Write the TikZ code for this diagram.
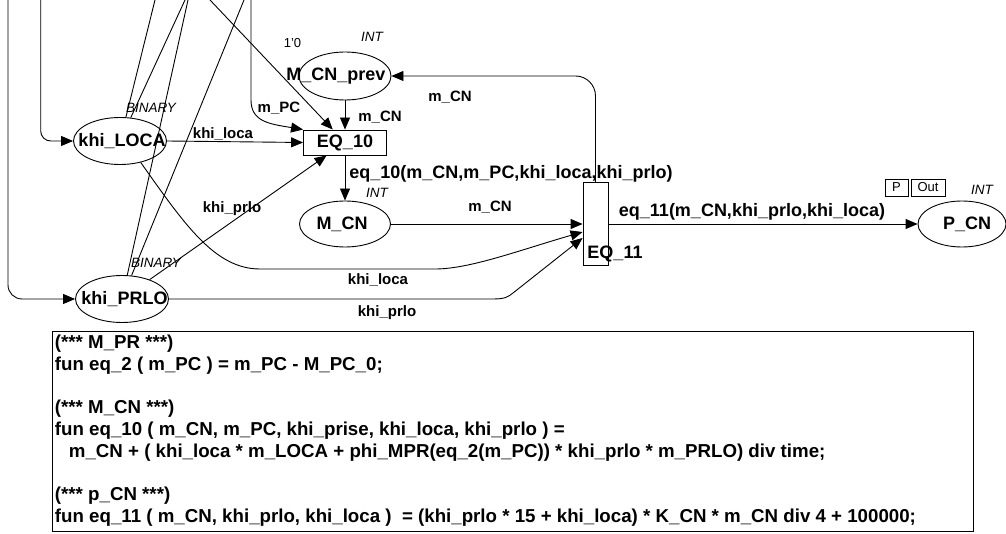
\documentclass[tikz,border=0pt]{standalone}
\usepackage{fontspec}
\setmainfont{Liberation Sans}
\usetikzlibrary{arrows.meta,shapes.geometric}
\begin{document}
\begin{tikzpicture}[x=1pt,y=-1pt,
  line width=0.9pt,
  arr/.style={-{Triangle[length=12pt,width=10pt]}},
  place/.style={draw,ellipse,minimum width=93pt,minimum height=47pt,inner sep=0pt},
  trans/.style={draw,rectangle,inner sep=0pt},
  nlab/.style={font=\fontsize{18}{20}\selectfont\bfseries,inner sep=0pt},
  alab/.style={font=\fontsize{15}{17}\selectfont\bfseries,inner sep=0pt},
  tlab/.style={font=\fontsize{13.5}{15}\selectfont\itshape,inner sep=0pt},
  smalltxt/.style={font=\fontsize{13}{15}\selectfont,inner sep=0pt},
  tagbox/.style={draw,line width=0.6pt,font=\fontsize{13}{15}\selectfont,inner sep=0pt,minimum height=17pt},
]
\useasboundingbox (0,0) rectangle (1006,534);

% places
\node[place] (loca) at (120,141) {};
\node[place] (prlo) at (122,299) {};
\node[place,minimum width=92pt,minimum height=48pt] (mcnprev) at (345,76) {};
\node[place,minimum width=91pt,minimum height=46pt] (mcn) at (345,224) {};
\node[place,minimum width=88pt,minimum height=46pt] (pcn) at (962,224) {};

% transitions
\node[trans,minimum width=83pt,minimum height=25pt] (eq10) at (345,142.5) {};
\node[trans,minimum width=25pt,minimum height=83pt] (eq11) at (595.5,224) {};

% node texts
\node[nlab] (tloca) at (122,141) {khi\_LOCA};
\node[nlab] (tprlo) at (124.5,299) {khi\_PRLO};
\node[nlab] (tmcnprev) at (336,76) {M\_CN\_prev};
\node[nlab] (tmcn) at (342,224) {M\_CN};
\node[nlab] (tpcn) at (967,224) {P\_CN};
\node[nlab] (teq10) at (345,142.5) {EQ\_10};
\node[nlab] (teq11) at (615,254) {EQ\_11};

% type / marking labels
\node[tlab] (bin1) at (151,108) {BINARY};
\node[tlab] (bin2) at (156,263) {BINARY};
\node[tlab] (int1) at (372,37) {INT};
\node[tlab] (int2) at (377,193) {INT};
\node[tlab] (int3) at (982,190) {INT};
\node[smalltxt] (mark) at (292.5,43) {1'0};
\node[tagbox,minimum width=23pt] (ptag) at (896.5,187.5) {P};
\node[tagbox,minimum width=34pt] (outtag) at (928,187.5) {Out};

% free ends at the top edge
\coordinate (inA) at (8,0);
\coordinate (inB) at (40.7,0);
\coordinate (lA) at (155,0);
\coordinate (lB) at (185,0);
\coordinate (lC) at (188,0);
\coordinate (lD) at (244,0);
\coordinate (lE) at (210,0);
\coordinate (lPC) at (251,0);

% arcs entering from above
\draw[arr,rounded corners=14pt] (inA) |- (prlo.west);
\draw[arr,rounded corners=10pt] (inB) |- (loca.west);
\draw (lA) -- (loca);
\draw (lB) -- (loca);
\draw (lC) -- (prlo);
\draw (lD) -- (prlo);
\draw[arr] (lE) -- (eq10);
\draw[arr] (lPC) -- (251,100) .. controls (251,122) and (270,124) .. (eq10.north west);

% arcs of EQ_10
\draw[arr] (mcnprev) -- (eq10);
\draw[arr] (loca.east) -- (eq10.west);
\draw[arr] (prlo) -- (eq10);
\draw[arr] (eq10) -- (mcn);

% arcs of EQ_11
\draw[arr] (mcn.east) -- (mcn.east -| eq11.west);
\draw[arr] (loca.-46) .. controls (185,225) and (215,269) .. (260,269) -- (435,269)
  .. controls (470,269) and (520,250) .. ([yshift=-8pt]eq11.west);
\draw[arr] (prlo.east) -- (493,299) .. controls (505,299) and (508,297) .. (513,293)
  -- ([yshift=-14pt]eq11.west);
\draw[arr,rounded corners=20pt] (eq11.north) |- (mcnprev.east);
\draw[arr] (eq11.east) -- (pcn.west);

% arc labels
\node[alab] (a1) at (380,117) {m\_CN};
\node[alab] (a2) at (450,97) {m\_CN};
\node[alab] (a3) at (279,108) {m\_PC};
\node[alab] (a4) at (223,134) {khi\_loca};
\node[alab] (a5) at (232,209) {khi\_prlo};
\node[alab] (a6) at (490,207) {m\_CN};
\node[alab] (a7) at (378,280) {khi\_loca};
\node[alab] (a8) at (387,313) {khi\_prlo};
\node[nlab,anchor=west] (a9) at (349,174) {eq\_10(m\_CN,m\_PC,khi\_loca,khi\_prlo)};
\node[nlab] (a10) at (752,212) {eq\_11(m\_CN,khi\_prlo,khi\_loca)};

% declarations box
\node[draw,line width=0.9pt,minimum width=921pt,minimum height=200pt,inner sep=0pt,anchor=north west] (declbox) at (52,331) {};
\node[anchor=north west,align=left,inner sep=0pt,font=\fontsize{18.7}{21.75}\selectfont\bfseries] (decltext) at (54.5,334.5) {%
(*** M\_PR ***)\\
fun eq\_2 ( m\_PC ) = m\_PC - M\_PC\_0;\\
\mbox{}\\
(*** M\_CN ***)\\
fun eq\_10 ( m\_CN, m\_PC, khi\_prise, khi\_loca, khi\_prlo ) =\\
\hspace*{14pt}m\_CN + ( khi\_loca * m\_LOCA + phi\_MPR(eq\_2(m\_PC)) * khi\_prlo * m\_PRLO) div time;\\
\mbox{}\\
(*** p\_CN ***)\\
fun eq\_11 ( m\_CN, khi\_prlo, khi\_loca )\ \ = (khi\_prlo * 15 + khi\_loca) * K\_CN * m\_CN div 4 + 100000;};
\end{tikzpicture}
\end{document}
